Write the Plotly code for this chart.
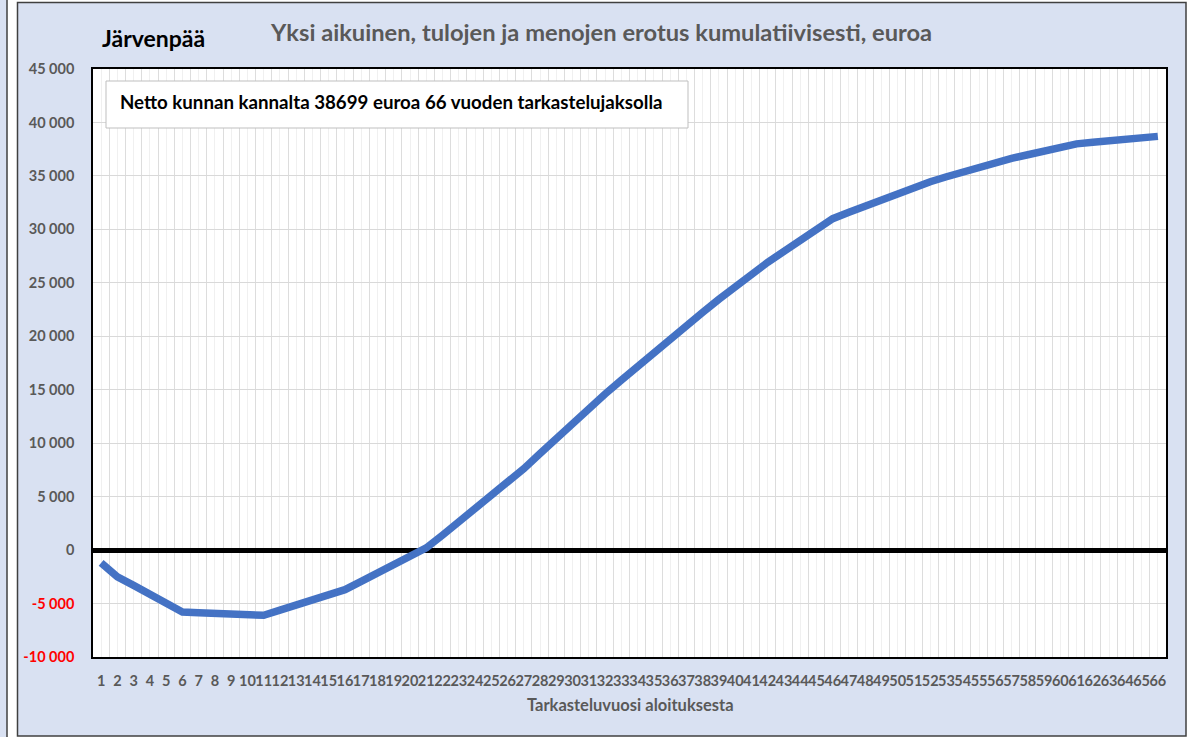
import plotly.graph_objects as go

years = list(range(1, 67))
year_labels = [str(v) for v in years]
cumulative = [
    -1200, -2500, -3300, -4150, -5000, -5800, -5860, -5920, -5980, -6040,
    -6100, -5620, -5140, -4660, -4180, -3700, -2920, -2140, -1360, -580,
    200, 1400, 2600, 3800, 5000, 6200, 7620, 9040, 10460, 11880,
    13300, 14600, 15900, 17200, 18500, 19800, 21020, 22240, 23460, 24680,
    25900, 26920, 27940, 28960, 29980, 31000, 31600, 32200, 32800, 33400,
    34000, 34460, 34920, 35380, 35840, 36300, 36640, 36980, 37320, 37660,
    38000, 38140, 38280, 38420, 38560, 38699,
]
y_tick_vals = [-10000, -5000, 0, 5000, 10000, 15000, 20000, 25000, 30000, 35000, 40000, 45000]
y_tick_text = [
    "<span style='color:#FF0000'>-10 000</span>",
    "<span style='color:#FF0000'>-5 000</span>",
    "0", "5 000", "10 000", "15 000", "20 000", "25 000",
    "30 000", "35 000", "40 000", "45 000",
]

city = "Järvenpää"
title = "Yksi aikuinen, tulojen ja menojen erotus kumulatiivisesti, euroa"
note = "Netto kunnan kannalta 38699 euroa 66 vuoden tarkastelujaksolla"
x_title = "Tarkasteluvuosi aloituksesta"

FONT = "Lato"
GRAY = "#595959"
BG = "#D9E1F2"

W, H = 1196, 737
L, R, T, B = 93, 1166, 69, 657


def fx(px):
    return (px - L) / (R - L)


def fy(py):
    return 1 - (py - T) / (B - T)


fig = go.Figure()
fig.add_trace(go.Scatter(
    x=years, y=cumulative, mode="lines",
    line=dict(color="#4472C4", width=7.5),
    hoverinfo="skip", showlegend=False,
))

shapes = [
    dict(type="rect", xref="paper", yref="paper", layer="below",
         x0=fx(-10), x1=fx(7), y0=fy(760), y1=fy(-20),
         fillcolor=BG, line=dict(color="#404040", width=1.5)),
    dict(type="rect", xref="paper", yref="paper", layer="below",
         x0=fx(17.5), x1=fx(1186), y0=fy(736), y1=fy(2.5),
         fillcolor=BG, line=dict(color="#404040", width=1.5)),
    dict(type="rect", xref="paper", yref="paper", layer="below",
         x0=0, x1=1, y0=0, y1=1,
         fillcolor="white", line=dict(width=0)),
    dict(type="rect", xref="paper", yref="paper", layer="above",
         x0=fx(106), x1=fx(688), y0=fy(128), y1=fy(81),
         fillcolor="white", line=dict(color="#BFBFBF", width=1)),
]

annotations = [
    dict(text=f"<b>{city}</b>", xref="paper", yref="paper",
         x=fx(100), y=fy(38), xanchor="left", yanchor="middle",
         showarrow=False, font=dict(family=FONT, size=23, color="black")),
    dict(text=f"<b>{title}</b>", xref="paper", yref="paper",
         x=fx(601), y=fy(32), xanchor="center", yanchor="middle",
         showarrow=False, font=dict(family=FONT, size=23.7, color=GRAY)),
    dict(text=f"<b>{note}</b>", xref="paper", yref="paper",
         x=fx(118), y=fy(102), xanchor="left", yanchor="middle",
         showarrow=False, font=dict(family=FONT, size=18.7, color="black")),
    dict(text=f"<b>{x_title}</b>", xref="paper", yref="paper",
         x=fx(630), y=fy(705), xanchor="center", yanchor="middle",
         showarrow=False, font=dict(family=FONT, size=16.5, color=GRAY)),
]

fig.update_layout(
    width=W, height=H,
    margin=dict(l=L, r=W - R, t=T, b=H - B, pad=0),
    paper_bgcolor="white", plot_bgcolor="white",
    shapes=shapes, annotations=annotations,
    showlegend=False,
    font=dict(family=FONT, color=GRAY),
)

fig.update_xaxes(
    range=[0.5, 66.5],
    tickmode="array", tickvals=years, ticktext=[f"<b>{t}</b>" for t in year_labels],
    tickangle=0, tickfont=dict(family=FONT, size=14.5, color=GRAY),
    ticks="", ticklabelstandoff=10,
    showgrid=True, gridcolor="#F0F0F0", gridwidth=1,
    minor=dict(tick0=0.5, dtick=1, showgrid=True, gridcolor="#DDDDDD", gridwidth=1, ticks=""),
    showline=True, linecolor="black", linewidth=1.5, mirror=True,
    zeroline=False, fixedrange=True,
)
fig.update_yaxes(
    range=[-10000, 45000],
    tickmode="array", tickvals=y_tick_vals, ticktext=[f"<b>{t}</b>" for t in y_tick_text],
    tickfont=dict(family=FONT, size=14.5, color=GRAY),
    ticks="", ticklabelstandoff=14,
    showgrid=True, gridcolor="#D9D9D9", gridwidth=1,
    showline=True, linecolor="black", linewidth=1.5, mirror=True,
    zeroline=True, zerolinecolor="black", zerolinewidth=4.5,
    fixedrange=True,
)

fig.write_html(
    "out.html",
    config={"displayModeBar": False},
    post_script="document.body.style.margin='0';",
)
